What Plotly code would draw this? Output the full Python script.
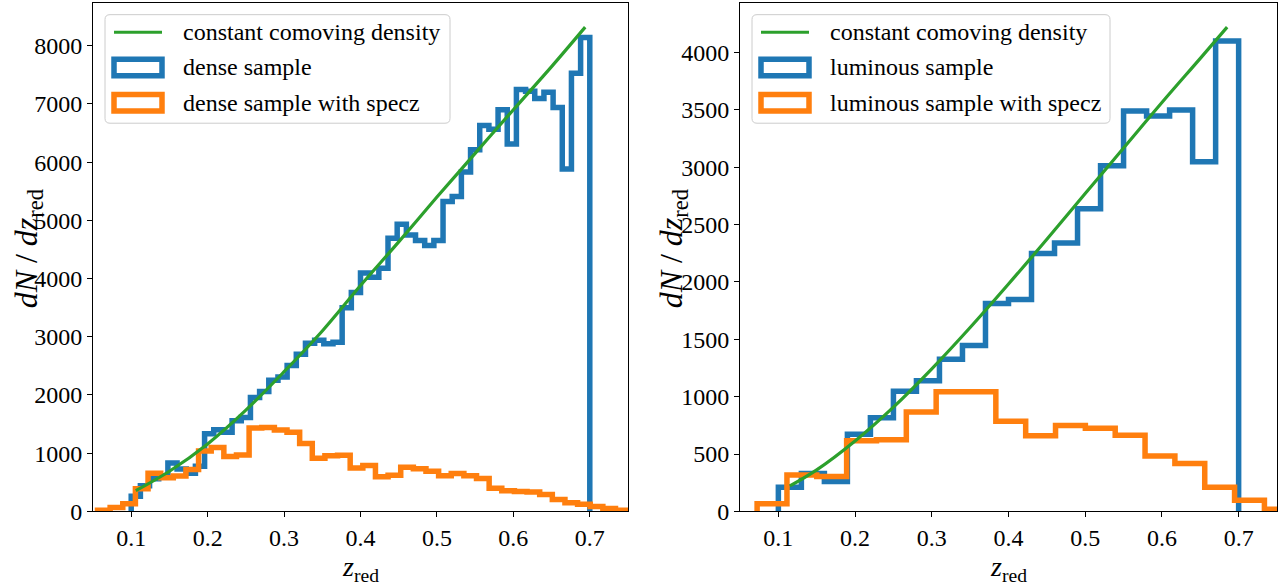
import numpy as np
import plotly.graph_objects as go

W, H = 1282, 588

# ---------------- data : left panel (dense) ----------------
dense_edges = np.round(np.linspace(0.10, 0.70, 51), 4)
dense_counts = [260, 441, 560, 610, 830, 730, 655, 775, 1334, 1401,
                1362, 1556, 1612, 1958, 2059, 2254, 2310, 2505, 2700, 2890,
                2940, 2880, 2907, 3498, 3760, 4095, 4022, 4179, 4692, 4932,
                4748, 4653, 4569, 4653, 5322, 5410, 5830, 6214, 6630, 6565,
                6900, 6310, 7247, 7215, 7091, 7200, 6940, 5880, 7526, 8140]
dense_specz_edges = np.round(0.0559 + 0.01653 * np.arange(44), 5)
dense_specz_counts = [22, 67, 133, 389, 655, 580, 608, 720, 1040, 1096,
                      942, 970, 1431, 1440, 1400, 1361, 1166, 915, 955, 966,
                      744, 789, 594, 622, 761, 733, 689, 611, 650, 611,
                      567, 400, 355, 344, 333, 289, 206, 150, 122, 83,
                      50, 22, 15]
green_z_dense = [0.106, 0.15, 0.2, 0.25, 0.3, 0.35, 0.4, 0.45, 0.5, 0.55, 0.6, 0.65, 0.694]
green_dense = [357, 690, 1160, 1740, 2400, 3100, 3880, 4630, 5400, 6150, 6900, 7640, 8318]

# ---------------- data : right panel (luminous) ----------------
lum_edges = np.round(np.linspace(0.10, 0.70, 21), 4)
lum_counts = [210, 330, 261, 673, 817, 1047, 1140, 1327, 1447, 1813,
              1847, 2247, 2340, 2638, 3013, 3489, 3447, 3498, 3047, 4100]
lum_specz_edges = np.round(0.0723 + 0.0389 * np.arange(19), 5)
lum_specz_counts = [68, 318, 304, 616, 625, 866, 1043, 1043, 787, 659,
                    750, 724, 665, 483, 418, 210, 97, 20]
green_z_lum = [0.115, 0.15, 0.2, 0.25, 0.3, 0.35, 0.4, 0.45, 0.5, 0.55, 0.6, 0.65, 0.685]
green_lum = [222, 362, 614, 909, 1243, 1603, 1982, 2372, 2771, 3167, 3564, 3949, 4221]

x_ticks = [0.1, 0.2, 0.3, 0.4, 0.5, 0.6, 0.7]
x_ticktext = ["0.1", "0.2", "0.3", "0.4", "0.5", "0.6", "0.7"]
y_ticks_dense = [0, 1000, 2000, 3000, 4000, 5000, 6000, 7000, 8000]
y_ticks_lum = [0, 500, 1000, 1500, 2000, 2500, 3000, 3500, 4000]

legend_dense = ["constant comoving density", "dense sample", "dense sample with specz"]
legend_lum = ["constant comoving density", "luminous sample", "luminous sample with specz"]

BLUE, ORANGE, GREEN = "#1f77b4", "#ff7f0e", "#2ca02c"
FONT = "Liberation Serif"


def step_xy(edges, counts):
    x = [edges[0]] + list(edges)
    y = [0] + list(counts) + [0]
    return x, y


fig = go.Figure()

for xa, ya, edges, counts, sedges, scounts, gz, gv in [
    ("x", "y", dense_edges, dense_counts, dense_specz_edges, dense_specz_counts, green_z_dense, green_dense),
    ("x2", "y2", lum_edges, lum_counts, lum_specz_edges, lum_specz_counts, green_z_lum, green_lum),
]:
    bx, by = step_xy(edges, counts)
    fig.add_trace(go.Scatter(x=bx, y=by, mode="lines", line=dict(color=BLUE, width=5.5, shape="hv"),
                             xaxis=xa, yaxis=ya, showlegend=False, hoverinfo="skip"))
    ox, oy = step_xy(sedges, scounts)
    fig.add_trace(go.Scatter(x=ox, y=oy, mode="lines", line=dict(color=ORANGE, width=5.5, shape="hv"),
                             xaxis=xa, yaxis=ya, showlegend=False, hoverinfo="skip"))
    fig.add_trace(go.Scatter(x=gz, y=gv, mode="lines", line=dict(color=GREEN, width=3.2, shape="spline"),
                             xaxis=xa, yaxis=ya, showlegend=False, hoverinfo="skip"))


def px(xp):
    return xp / W


def py(yp):
    return 1 - yp / H


ax_common = dict(showline=True, linecolor="black", linewidth=1, mirror=True, showgrid=False,
                 zeroline=False, ticks="outside", ticklen=5, tickwidth=1, tickcolor="black",
                 tickfont=dict(family=FONT, size=24, color="black"))

top, bottom = 3, 523
fig.update_layout(
    width=W, height=H,
    margin=dict(l=0, r=0, t=0, b=0),
    paper_bgcolor="white", plot_bgcolor="white",
    showlegend=False,
    font=dict(family=FONT, color="black"),
    xaxis=dict(domain=[px(93), px(628)], range=[0.05, 0.75], tickvals=x_ticks, ticktext=x_ticktext,
               anchor="y", **ax_common),
    yaxis=dict(domain=[py(bottom), py(top)], range=[0, 8734], tickvals=y_ticks_dense,
               ticktext=[str(v) for v in y_ticks_dense], anchor="x", **ax_common),
    xaxis2=dict(domain=[px(740), px(1277)], range=[0.05, 0.75], tickvals=x_ticks, ticktext=x_ticktext,
                anchor="y2", **ax_common),
    yaxis2=dict(domain=[py(bottom), py(top)], range=[0, 4432], tickvals=y_ticks_lum,
                ticktext=[str(v) for v in y_ticks_lum], anchor="x2", **ax_common),
)

annotations = []
shapes = []

# axis titles
for cx in (360, 1008):
    annotations.append(dict(x=px(cx), y=py(561), xref="paper", yref="paper", showarrow=False,
                            text="<i>z</i><sub>red</sub>", xanchor="center", yanchor="top",
                            font=dict(family=FONT, size=28, color="black")))
for cx in (28, 673):
    annotations.append(dict(x=px(cx), y=py(255), xref="paper", yref="paper", showarrow=False,
                            text="<i>dN</i> / <i>dz</i><sub>red</sub>", textangle=-90,
                            xanchor="center", yanchor="middle",
                            font=dict(family=FONT, size=32, color="black")))


def rounded_rect(x0, y0, x1, y1, r=5):
    rx, ry = r / W, r / H
    X0, X1 = px(x0), px(x1)
    Y0, Y1 = py(y0), py(y1)  # Y0 top, Y1 bottom
    return (f"M {X0+rx},{Y0} L {X1-rx},{Y0} Q {X1},{Y0} {X1},{Y0-ry} "
            f"L {X1},{Y1+ry} Q {X1},{Y1} {X1-rx},{Y1} L {X0+rx},{Y1} "
            f"Q {X0},{Y1} {X0},{Y1+ry} L {X0},{Y0-ry} Q {X0},{Y0} {X0+rx},{Y0} Z")


for bx0, bx1, hx0, tx, labels in [(105, 450, 114, 181, legend_dense),
                                   (752, 1110, 761, 828, legend_lum)]:
    shapes.append(dict(type="path", path=rounded_rect(bx0, 15, bx1, 126), xref="paper", yref="paper",
                       line=dict(color="#cccccc", width=1), fillcolor="rgba(255,255,255,0.8)", layer="above"))
    rows = [33, 69, 105]
    shapes.append(dict(type="line", x0=px(hx0), x1=px(hx0 + 48), y0=py(rows[0]), y1=py(rows[0]),
                       xref="paper", yref="paper", line=dict(color=GREEN, width=3.2), layer="above"))
    for yc, col in ((rows[1], BLUE), (rows[2], ORANGE)):
        shapes.append(dict(type="rect", x0=px(hx0), x1=px(hx0 + 48), y0=py(yc + 8.4), y1=py(yc - 8.4),
                           xref="paper", yref="paper", line=dict(color=col, width=5.5),
                           fillcolor="rgba(0,0,0,0)", layer="above"))
    for yc, lab in zip(rows, labels):
        annotations.append(dict(x=px(tx), y=py(yc), xref="paper", yref="paper", showarrow=False,
                                text=lab, xanchor="left", yanchor="middle",
                                font=dict(family=FONT, size=24, color="black")))

fig.update_layout(annotations=annotations, shapes=shapes)
fig.write_html("out.html")
